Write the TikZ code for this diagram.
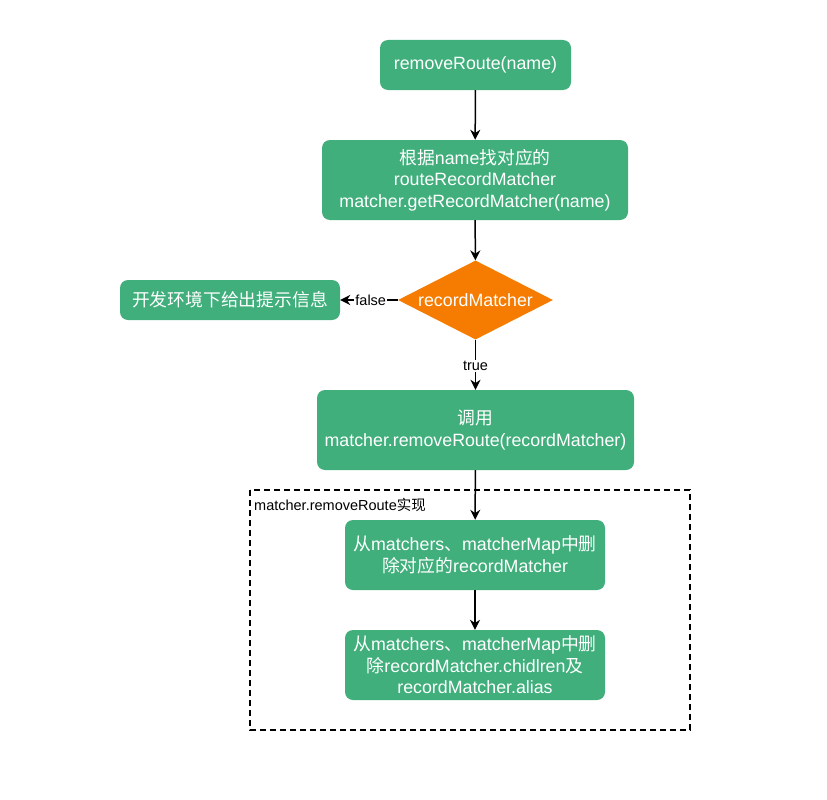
\documentclass[tikz,border=0pt]{standalone}
\usepackage{fontspec}
\setmainfont{Liberation Sans}
\newfontfamily\cjk{Noto Sans CJK SC}
\usetikzlibrary{shapes.geometric,arrows.meta}
\definecolor{gbox}{RGB}{64,175,124}
\definecolor{obox}{RGB}{245,124,0}
\newcommand{\zh}[1]{{\cjk #1}}
\tikzset{
  gnode/.style={fill=gbox, draw=none, rounded corners=8pt, text=white, font=\fontsize{17.8}{21.5}\selectfont, align=center, inner sep=0pt},
  dnode/.style={diamond, fill=obox, draw=none, text=white, font=\fontsize{17.8}{21.5}\selectfont, inner sep=0pt, aspect=1.96},
  arr/.style={line width=1.5pt, -{Stealth[length=10pt,width=10pt]}},
  lbl/.style={fill=white, font=\fontsize{14.5}{17}\selectfont, inner sep=1pt, text=black}
}
\begin{document}
\begin{tikzpicture}[x=1pt,y=-1pt]
\useasboundingbox (0,0) rectangle (827,800);
\node[gnode, minimum width=191pt, minimum height=50pt] (n1) at (475.5,65) {removeRoute(name)};
\node[gnode, minimum width=306pt, minimum height=80pt] (n2) at (475,180) {\zh{根据}name\zh{找对应的}\\routeRecordMatcher\\matcher.getRecordMatcher(name)};
\node[dnode, minimum width=155pt, minimum height=79pt] (d) at (475.5,300) {recordMatcher};
\node[gnode, minimum width=220pt, minimum height=40pt] (nl) at (230,300) {\zh{开发环境下给出提示信息}};
\node[gnode, minimum width=317pt, minimum height=80pt] (n3) at (475.5,430) {\zh{调用}\\matcher.removeRoute(recordMatcher)};
\draw[line width=1.2pt, dashed, dash pattern=on 6pt off 4pt] (250,490) rectangle (690,730);
\node[anchor=west, font=\fontsize{14.5}{17}\selectfont, inner sep=0pt] (lab) at (254,505) {matcher.removeRoute\zh{实现}};
\node[gnode, minimum width=260pt, minimum height=70pt] (n4) at (475,555) {\zh{从}matchers\zh{、}matcherMap\zh{中删}\\\zh{除对应的}recordMatcher};
\node[gnode, minimum width=260pt, minimum height=70pt] (n5) at (475,665) {\zh{从}matchers\zh{、}matcherMap\zh{中删}\\\zh{除}recordMatcher.chidlren\zh{及}\\recordMatcher.alias};
\draw[arr] (n1) -- (n2);
\draw[arr] (n2) -- (d);
\draw[arr] (d) -- node[lbl, pos=0.47]{false} (nl);
\draw[arr] (d) -- node[lbl, pos=0.52]{true} (n3);
\draw[arr] (n3) -- (n4);
\draw[arr] (n4) -- (n5);
\end{tikzpicture}
\end{document}
